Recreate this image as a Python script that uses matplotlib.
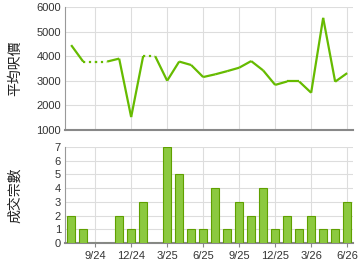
import matplotlib
matplotlib.use('Agg')
import matplotlib.pyplot as plt
import numpy as np

# monthly data, 7/24 .. 6/26
months = ['7/24', '8/24', '9/24', '10/24', '11/24', '12/24', '1/25', '2/25', '3/25',
          '4/25', '5/25', '6/25', '7/25', '8/25', '9/25', '10/25', '11/25', '12/25',
          '1/26', '2/26', '3/26', '4/26', '5/26', '6/26']
price = [4450, 3780, None, None, 3900, 1520, 4000, None, 3000, 3780, 3640, 3150,
         3260, 3390, 3530, 3800, 3420, 2830, 2970, 2970, 2510, 5560, 2960, 3310]
volume = [2, 1, 0, 0, 2, 1, 3, 0, 7, 5, 1, 1, 4, 1, 3, 2, 4, 1, 2, 1, 2, 1, 1, 3]
tick_idx = [2, 5, 8, 11, 14, 17, 20, 23]

plt.rcParams['font.family'] = ['Liberation Sans', 'Noto Sans CJK TC', 'DejaVu Sans']

line_c = '#66bb00'
grid_c = '#dddddd'
spine_c = '#999999'

fig = plt.figure(figsize=(3.6, 2.7), dpi=100)
ax1 = fig.add_axes([0.181, 0.519, 0.80, 0.455])
ax2 = fig.add_axes([0.181, 0.100, 0.80, 0.356])

x = np.arange(len(months))

# months without deals carry the last price, drawn dotted
filled = []
last = None
for p in price:
    if p is not None:
        last = p
    filled.append(last)

for i in range(len(months) - 1):
    ls = ':' if price[i + 1] is None else '-'
    ax1.plot(x[i:i + 2], filled[i:i + 2], color=line_c, lw=1.6, ls=ls,
             solid_joinstyle='miter', solid_capstyle='butt')

ax2.bar(x, volume, width=0.65, color='#8cc940', edgecolor='#5fa000', linewidth=0.8, zorder=3)

for ax in (ax1, ax2):
    ax.set_xlim(-0.5, 23.5)
    ax.set_xticks(tick_idx)
    ax.grid(True, color=grid_c, lw=0.8)
    ax.set_axisbelow(True)
    for s in ('top', 'right'):
        ax.spines[s].set_visible(False)
    ax.spines['left'].set_color(spine_c)
    ax.spines['bottom'].set_color('#888888')
    ax.spines['bottom'].set_linewidth(1.5)
    ax.tick_params(length=0, labelsize=8, colors='#333333', pad=3)

ax1.set_ylim(1000, 6000)
ax1.set_yticks([1000, 2000, 3000, 4000, 5000, 6000])
ax1.set_xticklabels([])

ax2.set_ylim(0, 7)
ax2.set_yticks(range(8))
ax2.set_xticklabels([months[i] for i in tick_idx])
ax2.tick_params(axis='x', length=3, color='#888888')

# axis titles placed at fixed spots like the original
fig.text(15 / 360, 1 - 68 / 270, '平均呎價', rotation=90, fontsize=10,
         ha='center', va='center', color='#222222')
fig.text(15 / 360, 1 - 195 / 270, '成交宗數', rotation=90, fontsize=10,
         ha='center', va='center', color='#222222')

fig.savefig('out.png', dpi=100)
